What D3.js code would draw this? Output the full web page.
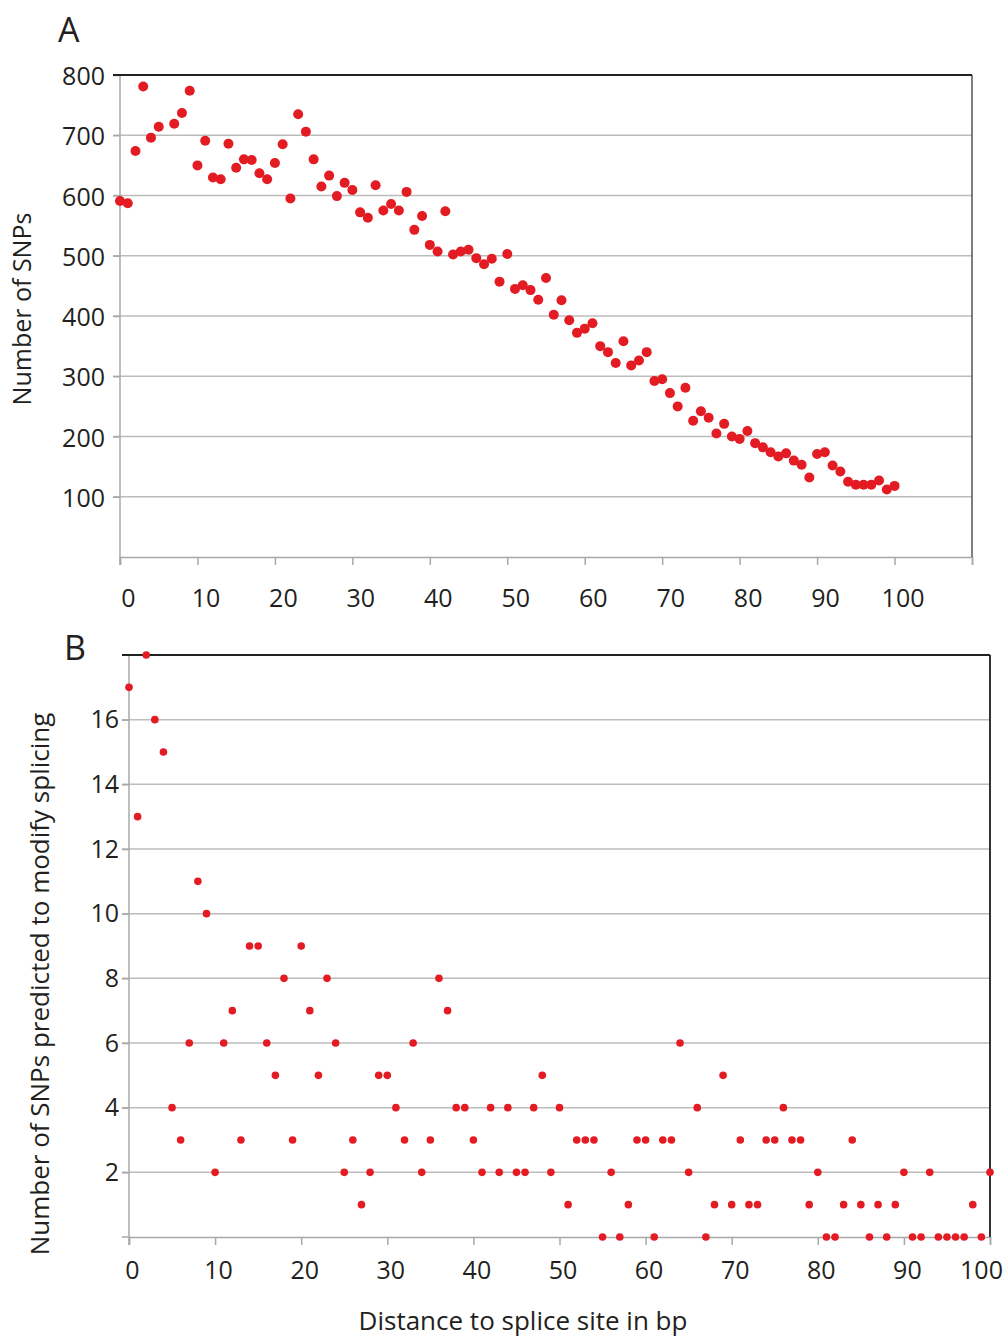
<!DOCTYPE html>
<html>
<head>
<meta charset="utf-8">
<script src="https://cdn.jsdelivr.net/npm/d3@7"></script>
<style>
  body { margin: 0; background: #fff; }
  text { font-family: "Open Sans", sans-serif; fill: #231f20; }
</style>
</head>
<body>
<div id="chart"></div>
<script>
// panel A: number of SNPs per distance (x=6 not visible in figure)
var distA = [0,1,2,3,4,5,7,8,9,10,11,12,13,14,15,16,17,18,19,20,21,22,23,24,25,26,27,28,29,30,
  31,32,33,34,35,36,37,38,39,40,41,42,43,44,45,46,47,48,49,50,51,52,53,54,55,56,57,58,59,60,
  61,62,63,64,65,66,67,68,69,70,71,72,73,74,75,76,77,78,79,80,81,82,83,84,85,86,87,88,89,90,
  91,92,93,94,95,96,97,98,99,100];
var snpsA = [591,587,674,781,696,714,719,737,774,650,691,630,627,686,646,660,659,637,627,654,
  685,595,735,706,660,615,633,599,621,609,572,563,617,575,586,575,606,543,566,518,507,574,502,507,510,
  496,486,495,457,503,445,451,443,427,463,402,426,393,372,379,388,350,340,322,358,318,326,340,292,295,
  272,250,281,226,242,231,205,221,200,196,209,189,182,174,167,172,160,153,132,171,174,152,142,125,
  120,120,120,127,112,118];
var yTicksA = [100,200,300,400,500,600,700,800];
var xTicksA = [0,10,20,30,40,50,60,70,80,90,100,110];
var xLabelsA = [0,10,20,30,40,50,60,70,80,90,100];

// panel B: SNPs predicted to modify splicing, distance 0..100
var distB = d3.range(0, 101);
var snpsB = [17,13,18,16,15,4,3,6,11,10,2,6,7,3,9,9,6,5,8,3,
  9,7,5,8,6,2,3,1,2,5,5,4,3,6,2,3,8,7,4,4,
  3,2,4,2,4,2,2,4,5,2,4,1,3,3,3,0,2,0,1,3,
  3,0,3,3,6,2,4,0,1,5,1,3,1,1,3,3,4,3,3,1,
  2,0,0,1,3,1,0,1,0,1,2,0,0,2,0,0,0,0,1,0,2];
var yTicksB = [2,4,6,8,10,12,14,16];
var xTicksB = [0,10,20,30,40,50,60,70,80,90,100];

var red = "#e31b23";
var grid = "#bcbcbc";
var axisGray = "#a8a8a8";

var svg = d3.select("#chart").append("svg")
  .attr("width", 1006)
  .attr("height", 1339);

// ---------- panel A ----------
var xA = d3.scaleLinear().domain([0, 110]).range([120, 972]);
var yA = d3.scaleLinear().domain([0, 800]).range([557, 75]);

var gA = svg.append("g");

// gridlines
gA.selectAll(".gridA")
  .data(yTicksA.slice(0, -1))
  .enter().append("line")
  .attr("x1", xA(0) - 7).attr("x2", xA(110))
  .attr("y1", d => yA(d)).attr("y2", d => yA(d))
  .attr("stroke", grid).attr("stroke-width", 1.5);

// y axis labels
gA.append("g")
  .attr("transform", `translate(${xA(0)},0)`)
  .call(d3.axisLeft(yA).tickValues(yTicksA).tickSize(7).tickPadding(8))
  .call(g => g.select(".domain").remove())
  .call(g => g.selectAll("line").attr("stroke", axisGray).attr("stroke-width", 1.5))
  .call(g => g.selectAll("text").attr("font-size", 25).attr("dy", "0.38em").attr("fill", "#231f20"));

// x axis
gA.append("g")
  .attr("transform", `translate(0,${yA(0)})`)
  .call(d3.axisBottom(xA).tickValues(xTicksA).tickSize(8).tickPadding(24)
    .tickFormat(d => xLabelsA.includes(d) ? d : ""))
  .call(g => g.select(".domain").attr("stroke", axisGray).attr("stroke-width", 1.5))
  .call(g => g.selectAll("line").attr("stroke", axisGray).attr("stroke-width", 1.5))
  .call(g => g.selectAll("text").attr("font-size", 25).attr("dx", 8).attr("fill", "#231f20"));

// frame
gA.append("line").attr("x1", xA(0)).attr("x2", xA(0)).attr("y1", yA(800)).attr("y2", yA(0) + 8)
  .attr("stroke", axisGray).attr("stroke-width", 1.5);
gA.append("line").attr("x1", xA(110)).attr("x2", xA(110)).attr("y1", yA(800)).attr("y2", yA(0))
  .attr("stroke", "#555").attr("stroke-width", 1.5);
gA.append("line").attr("x1", xA(0) - 7).attr("x2", xA(110)).attr("y1", yA(800)).attr("y2", yA(800))
  .attr("stroke", "#222").attr("stroke-width", 1.8);

// points
gA.selectAll(".dotA")
  .data(distA)
  .enter().append("circle")
  .attr("cx", d => xA(d))
  .attr("cy", (d, i) => yA(snpsA[i]))
  .attr("r", 5)
  .attr("fill", red);

gA.append("text").attr("x", 58).attr("y", 42).attr("font-size", 34).text("A");
gA.append("text")
  .attr("transform", `translate(31,${(yA(800) + yA(0)) / 2 - 7}) rotate(-90)`)
  .attr("text-anchor", "middle").attr("font-size", 25)
  .text("Number of SNPs");

// ---------- panel B ----------
var xB = d3.scaleLinear().domain([0, 100]).range([129, 990]);
var yB = d3.scaleLinear().domain([0, 18]).range([1237, 655]);

var gB = svg.append("g");

gB.selectAll(".gridB")
  .data(yTicksB)
  .enter().append("line")
  .attr("x1", xB(0) - 7).attr("x2", xB(100))
  .attr("y1", d => yB(d)).attr("y2", d => yB(d))
  .attr("stroke", grid).attr("stroke-width", 1.5);

gB.append("g")
  .attr("transform", `translate(${xB(0)},0)`)
  .call(d3.axisLeft(yB).tickValues(yTicksB).tickSize(7).tickPadding(3))
  .call(g => g.select(".domain").remove())
  .call(g => g.selectAll("line").attr("stroke", axisGray).attr("stroke-width", 1.5))
  .call(g => g.selectAll("text").attr("font-size", 25).attr("fill", "#231f20"));

gB.append("g")
  .attr("transform", `translate(0,${yB(0)})`)
  .call(d3.axisBottom(xB).tickValues(xTicksB).tickSize(8).tickPadding(16))
  .call(g => g.select(".domain").attr("stroke", axisGray).attr("stroke-width", 1.5))
  .call(g => g.selectAll("line").attr("stroke", axisGray).attr("stroke-width", 1.5))
  .call(g => g.selectAll("text").attr("font-size", 25).attr("fill", "#231f20")
    .attr("dx", d => d === 100 ? -9 : 3));

gB.append("line").attr("x1", xB(0) - 7).attr("x2", xB(0)).attr("y1", yB(0)).attr("y2", yB(0))
  .attr("stroke", axisGray).attr("stroke-width", 1.5);
gB.append("line").attr("x1", xB(0)).attr("x2", xB(0)).attr("y1", yB(18)).attr("y2", yB(0) + 8)
  .attr("stroke", axisGray).attr("stroke-width", 1.5);
gB.append("line").attr("x1", xB(100)).attr("x2", xB(100)).attr("y1", yB(18)).attr("y2", yB(0))
  .attr("stroke", "#333").attr("stroke-width", 2);
gB.append("line").attr("x1", xB(0) - 7).attr("x2", xB(100)).attr("y1", yB(18)).attr("y2", yB(18))
  .attr("stroke", "#222").attr("stroke-width", 1.8);

gB.selectAll(".dotB")
  .data(distB)
  .enter().append("circle")
  .attr("cx", d => xB(d))
  .attr("cy", (d, i) => yB(snpsB[i]))
  .attr("r", 3.8)
  .attr("fill", red);

gB.append("text").attr("x", 64).attr("y", 660).attr("font-size", 34).text("B");
gB.append("text")
  .attr("transform", `translate(49,984) rotate(-90)`)
  .attr("text-anchor", "middle").attr("font-size", 26)
  .text("Number of SNPs predicted to modify splicing");
gB.append("text")
  .attr("x", 523).attr("y", 1330)
  .attr("text-anchor", "middle").attr("font-size", 26)
  .text("Distance to splice site in bp");
</script>
</body>
</html>
